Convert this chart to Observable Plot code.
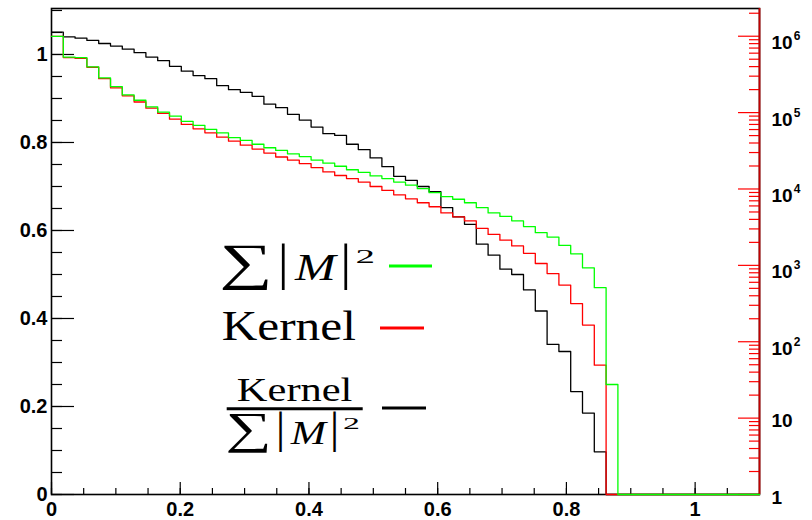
<!DOCTYPE html>
<html><head><meta charset="utf-8">
<script src="https://cdn.jsdelivr.net/npm/d3@7"></script>
<script src="https://cdn.jsdelivr.net/npm/@observablehq/plot@0.6"></script>
<style>
html,body{margin:0;padding:0;background:#fff;}
#chart{width:812px;height:520px;}
</style></head><body><div id="chart"></div>
<script>
// ---- data ----
const xRange = [0, 1.1];
const nBins = 60;
const sumM2 = [1.041,0.994,0.993,0.972,0.947,0.927,0.908,0.896,0.881,0.869,
  0.860,0.848,0.839,0.830,0.822,0.811,0.805,0.796,0.788,0.782,
  0.774,0.768,0.760,0.753,0.746,0.738,0.732,0.724,0.718,0.710,
  0.703,0.695,0.686,0.677,0.671,0.663,0.652,0.640,0.632,0.622,
  0.609,0.595,0.585,0.566,0.547,0.515,0.470,0.250,0,0,
  0,0,0,0,0,0,0,0,0,0];
const kernel = [1.041,0.993,0.991,0.971,0.945,0.924,0.906,0.892,0.878,0.866,
  0.853,0.841,0.831,0.822,0.812,0.803,0.794,0.785,0.776,0.767,
  0.760,0.752,0.743,0.733,0.725,0.718,0.710,0.700,0.691,0.681,
  0.672,0.663,0.654,0.640,0.631,0.622,0.605,0.591,0.578,0.565,
  0.548,0.525,0.502,0.476,0.434,0.385,0.294,0,0,0,
  0,0,0,0,0,0,0,0,0,0];
const ratio = [1.051,1.040,1.037,1.032,1.025,1.019,1.012,1.004,0.994,0.986,
  0.973,0.962,0.952,0.945,0.929,0.920,0.914,0.905,0.887,0.879,
  0.864,0.851,0.835,0.820,0.816,0.796,0.784,0.765,0.745,0.723,
  0.714,0.700,0.688,0.652,0.631,0.614,0.569,0.544,0.512,0.500,
  0.465,0.417,0.341,0.325,0.234,0.185,0.097,0,0,0,
  0,0,0,0,0,0,0,0,0,0];
const xTickValues = [0, 0.2, 0.4, 0.6, 0.8, 1];
const xTickLabels = ["0", "0.2", "0.4", "0.6", "0.8", "1"];
const yTickValues = [0, 0.2, 0.4, 0.6, 0.8, 1];
const yTickLabels = ["0", "0.2", "0.4", "0.6", "0.8", "1"];
const rightExponents = [0, 1, 2, 3, 4, 5, 6];
const rightLabels = ["1", "10", "10^2", "10^3", "10^4", "10^5", "10^6"];
const legendColors = ["#00ff00", "#ff0000", "#000000"];

// ---- scales / helpers ----
const yTop = 1.1045;      // top of left (linear) axis
const logTop = 6.363;     // top of right (log) axis, in decades
const logPos = v => Math.log10(v) / logTop * yTop;
const binW = (xRange[1] - xRange[0]) / nBins;
function outline(vals) {
  const pts = vals.map((v, i) => ({x: xRange[0] + i * binW, y: v}));
  pts.push({x: xRange[1], y: vals[vals.length - 1]});
  return pts;
}
const xMinor = d3.range(22).map(i => +(i * 0.05).toFixed(2));
const yMinor = d3.range(23).map(i => +(i * 0.05).toFixed(2));
const rightMajor = rightExponents.map(k => logPos(Math.pow(10, k)));
const rightMinor = [];
for (const k of rightExponents) for (let m = 2; m <= 9; m++) {
  const v = m * Math.pow(10, k);
  if (Math.log10(v) <= logTop) rightMinor.push(logPos(v));
}
const rl = rightExponents.map((k, i) => ({pos: logPos(Math.pow(10, k)), label: rightLabels[i], sup: rightLabels[i].includes("^")}));

const font = "Liberation Sans, Arial, Helvetica, sans-serif";
const svg = Plot.plot({
  width: 812, height: 520,
  marginLeft: 51, marginRight: 53, marginTop: 8, marginBottom: 26,
  x: {domain: xRange, label: null},
  y: {domain: [0, yTop], label: null},
  style: {fontFamily: font, fontSize: "20px", fontWeight: "bold", background: "white", color: "black"},
  marks: [
    Plot.frame({stroke: "#000", strokeWidth: 1.6}),
    // bottom ticks (inward)
    Plot.axisX({ticks: xMinor, tickSize: -6, tickFormat: () => "", label: null, strokeWidth: 1.2}),
    Plot.axisX({ticks: xTickValues, tickSize: -12, tickFormat: () => "", label: null, strokeWidth: 1.2}),
    // left ticks (inward)
    Plot.axisY({anchor: "left", ticks: yMinor, tickSize: -11, tickFormat: () => "", label: null, strokeWidth: 1.2}),
    Plot.axisY({anchor: "left", ticks: yTickValues, tickSize: -23, tickFormat: () => "", label: null, strokeWidth: 1.2}),
    // right log axis ticks (inward, red)
    Plot.axisY({anchor: "right", ticks: rightMinor, tickSize: -11, tickFormat: () => "", label: null, stroke: "#ff0000", strokeWidth: 1.2}),
    Plot.axisY({anchor: "right", ticks: rightMajor, tickSize: -22, tickFormat: () => "", label: null, stroke: "#ff0000", strokeWidth: 1.2}),
    Plot.ruleX([xRange[1]], {stroke: "#c00000", strokeWidth: 1.8}),
    // histograms
    Plot.line(outline(ratio), {x: "x", y: "y", curve: "step-after", stroke: legendColors[2], strokeWidth: 1.3}),
    Plot.line(outline(kernel), {x: "x", y: "y", curve: "step-after", stroke: legendColors[1], strokeWidth: 1.3}),
    Plot.line(outline(sumM2), {x: "x", y: "y", curve: "step-after", stroke: legendColors[0], strokeWidth: 1.3}),
    // tick labels
    Plot.axisX({ticks: xTickValues, tickSize: 0, tickPadding: 7, label: null,
      tickFormat: d => xTickLabels[xTickValues.indexOf(d)], fontSize: 20, fontWeight: "bold"}),
    Plot.axisY({anchor: "left", ticks: yTickValues, tickSize: 0, tickPadding: 4, label: null,
      tickFormat: d => yTickLabels[yTickValues.indexOf(d)], fontSize: 20, fontWeight: "bold"}),
    Plot.text(rl.filter(d => !d.sup), {y: "pos", text: "label", frameAnchor: "right", dx: 12, dy: 3,
      textAnchor: "start", fontSize: 19, fontWeight: "bold", fill: "black"}),
    Plot.text(rl.filter(d => d.sup), {y: "pos", text: "label", frameAnchor: "right", dx: 12, dy: 7,
      textAnchor: "start", fontSize: 19, fontWeight: "bold", fill: "black"})
  ]
});
document.getElementById("chart").appendChild(svg);

// superscripts on right axis labels
d3.select(svg).selectAll("text").each(function () {
  const s = this.textContent;
  const m = s.match(/^(\d+)\^(\d+)$/);
  if (!m) return;
  const t = d3.select(this);
  t.text(null);
  t.append("tspan").text(m[1]);
  t.append("tspan").attr("font-size", 12).attr("dy", -9).attr("dx", 1).text(m[2]);
});

// ---- legend (LaTeX-like text), fitted by ink box ----
const ctx = document.createElement("canvas").getContext("2d");
const serif = "Liberation Serif";
const lg = d3.select(svg).append("g").attr("aria-label", "legend").attr("text-anchor", "start");
function inkFit(str, italic, box) {
  ctx.font = `${italic ? "italic " : ""}normal 100px "${serif}"`;
  ctx.textAlign = "start";
  ctx.textBaseline = "alphabetic";
  const m = ctx.measureText(str);
  const l = -m.actualBoundingBoxLeft, r = m.actualBoundingBoxRight;
  const t = -m.actualBoundingBoxAscent, b = m.actualBoundingBoxDescent;
  const [x0, y0, x1, y1] = box;
  const sx = (x1 - x0) / (r - l), sy = (y1 - y0) / (b - t);
  lg.append("text").attr("font-family", serif).attr("font-size", 100).attr("text-anchor", "start")
    .attr("font-style", italic ? "italic" : "normal").attr("font-weight", "normal").attr("fill", "black")
    .attr("transform", `translate(${x0},${y0}) scale(${sx},${sy}) translate(${-l},${-t})`)
    .text(str);
}
function sumM(ox, oy, s) {
  const P = [["\u2211", false, [0, 2, 45.6, 47]], ["|", false, [59, 0, 62.3, 47]], ["M", true, [71.3, 12, 115.3, 37]],
             ["|", false, [121.3, 0, 124.6, 47]], ["2", false, [134.3, 7, 150.3, 20]]];
  for (const [str, it, b] of P) inkFit(str, it, [ox + b[0] * s, oy + b[1] * s, ox + b[2] * s, oy + b[3] * s]);
}
sumM(222.7, 243, 1);
inkFit("Kernel", false, [222.7, 310, 355, 340]);
inkFit("Kernel", false, [237.7, 378.5, 351.7, 401.7]);
lg.append("line").attr("x1", 226.7).attr("x2", 362.7).attr("y1", 408.8).attr("y2", 408.8).attr("stroke", "black").attr("stroke-width", 3);
sumM(228, 412, 0.867);
const legendY = [266, 328, 408];
const legendX = [[389, 432], [380, 424], [382, 426]];
legendColors.forEach((c, i) => lg.append("line").attr("x1", legendX[i][0]).attr("x2", legendX[i][1])
  .attr("y1", legendY[i]).attr("y2", legendY[i]).attr("stroke", c).attr("stroke-width", 3));
</script></body></html>
